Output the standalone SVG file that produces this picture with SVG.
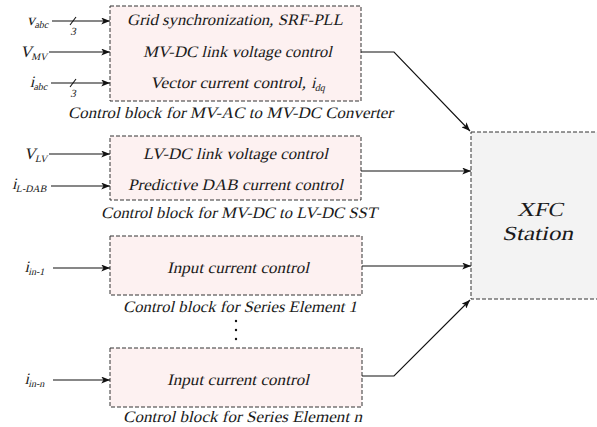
<svg xmlns="http://www.w3.org/2000/svg" width="597" height="427" viewBox="0 0 597 427">
<style>
text { font-family: "Liberation Serif", "Times New Roman", serif; font-style: normal; fill: #1a1a1a; }
.t { font-size: 16px; text-anchor: middle; }
.s { font-size: 16px; }
.lbl { font-size: 16px; text-anchor: end; }
.sub { font-size: 10px; }
.big { font-size: 20px; text-anchor: middle; }
.blk { fill: #fdf1f1; stroke: #333; stroke-width: 1; stroke-dasharray: 4 2; }
.xfc { fill: #f3f3f3; stroke: #333; stroke-width: 1; stroke-dasharray: 4 2; }
.c { fill: none; stroke: #111; stroke-width: 1.1; }
.num { font-size: 11px; text-anchor: middle; }
</style>
<defs>
<marker id="ah" viewBox="0 0 10 8" refX="10" refY="4" markerWidth="9" markerHeight="7" markerUnits="userSpaceOnUse" orient="auto">
<path d="M0,0 L10,4 L0,8 L2.5,4 z" fill="#111"/>
</marker>
</defs>

<g id="block1">
<rect class="blk" x="110" y="6" width="251" height="95"/>
<text class="t" transform="translate(235,25) skewX(-13)" textLength="216" lengthAdjust="spacingAndGlyphs">Grid synchronization, SRF-PLL</text>
<text class="t" transform="translate(237.5,57) skewX(-13)" textLength="189" lengthAdjust="spacingAndGlyphs">MV-DC link voltage control</text>
<text class="s" transform="translate(150,88) skewX(-13)" textLength="156" lengthAdjust="spacingAndGlyphs">Vector current control,</text>
<text class="s" transform="translate(311,88) skewX(-13)">i<tspan class="sub" dy="3">dq</tspan></text>
<text class="t" transform="translate(230.5,118) skewX(-13)" textLength="325" lengthAdjust="spacingAndGlyphs">Control block for MV-AC to MV-DC Converter</text>
</g>

<g id="block2">
<rect class="blk" x="110" y="136" width="251" height="64"/>
<text class="t" transform="translate(235.5,159) skewX(-13)" textLength="185" lengthAdjust="spacingAndGlyphs">LV-DC link voltage control</text>
<text class="t" transform="translate(235.5,190) skewX(-13)" textLength="215" lengthAdjust="spacingAndGlyphs">Predictive DAB current control</text>
<text class="t" transform="translate(239,218) skewX(-13)" textLength="276" lengthAdjust="spacingAndGlyphs">Control block for MV-DC to LV-DC SST</text>
</g>

<g id="block3">
<rect class="blk" x="110" y="236" width="252" height="59"/>
<text class="t" transform="translate(238,273) skewX(-13)" textLength="142" lengthAdjust="spacingAndGlyphs">Input current control</text>
<text class="t" transform="translate(240,312) skewX(-13)" textLength="234" lengthAdjust="spacingAndGlyphs">Control block for Series Element 1</text>
</g>

<g id="dots">
<circle cx="236" cy="321" r="1.2" fill="#111"/>
<circle cx="236" cy="330" r="1.2" fill="#111"/>
<circle cx="236" cy="339" r="1.2" fill="#111"/>
</g>

<g id="block4">
<rect class="blk" x="110" y="348" width="252" height="59"/>
<text class="t" transform="translate(238,385) skewX(-13)" textLength="142" lengthAdjust="spacingAndGlyphs">Input current control</text>
<text class="t" transform="translate(242.5,422) skewX(-13)" textLength="239" lengthAdjust="spacingAndGlyphs">Control block for Series Element n</text>
</g>

<g id="xfc">
<rect class="xfc" x="471" y="132" width="140" height="167"/>
<text class="big" transform="translate(540,216) skewX(-13)" textLength="46" lengthAdjust="spacingAndGlyphs">XFC</text>
<text class="big" transform="translate(537.5,240) skewX(-13)" textLength="71" lengthAdjust="spacingAndGlyphs">Station</text>
</g>

<g id="inputs">
<text class="lbl" transform="translate(49,25) skewX(-13)">v<tspan class="sub" dy="3">abc</tspan></text>
<text class="lbl" transform="translate(48,57) skewX(-13)">V<tspan class="sub" dy="3">MV</tspan></text>
<text class="lbl" transform="translate(48,87) skewX(-13)">i<tspan class="sub" dy="3">abc</tspan></text>
<text class="lbl" transform="translate(48,159) skewX(-13)">V<tspan class="sub" dy="3">LV</tspan></text>
<text class="lbl" transform="translate(47,189) skewX(-13)">i<tspan class="sub" dy="3">L-DAB</tspan></text>
<text class="lbl" transform="translate(45,272) skewX(-13)">i<tspan class="sub" dy="3">in-1</tspan></text>
<text class="lbl" transform="translate(45,384) skewX(-13)">i<tspan class="sub" dy="3">in-n</tspan></text>
<text class="num" transform="translate(73,35) skewX(-13)">3</text>
<text class="num" transform="translate(73,97) skewX(-13)">3</text>
</g>

<g id="connectors">
<line class="c" x1="52" y1="21" x2="110" y2="21" marker-end="url(#ah)"/>
<line class="c" x1="70" y1="25" x2="76" y2="17"/>
<line class="c" x1="49" y1="52" x2="110" y2="52" marker-end="url(#ah)"/>
<line class="c" x1="51" y1="83" x2="110" y2="83" marker-end="url(#ah)"/>
<line class="c" x1="70" y1="87" x2="76" y2="79"/>
<line class="c" x1="49" y1="154" x2="110" y2="154" marker-end="url(#ah)"/>
<line class="c" x1="51" y1="186" x2="110" y2="186" marker-end="url(#ah)"/>
<line class="c" x1="53" y1="268" x2="110" y2="268" marker-end="url(#ah)"/>
<line class="c" x1="53" y1="380" x2="110" y2="380" marker-end="url(#ah)"/>
<polyline class="c" points="361,52 394,52 470,131" marker-end="url(#ah)"/>
<line class="c" x1="361" y1="171" x2="471" y2="171" marker-end="url(#ah)"/>
<line class="c" x1="362" y1="266" x2="471" y2="266" marker-end="url(#ah)"/>
<polyline class="c" points="362,376 394,376 470,300" marker-end="url(#ah)"/>
</g>
</svg>
